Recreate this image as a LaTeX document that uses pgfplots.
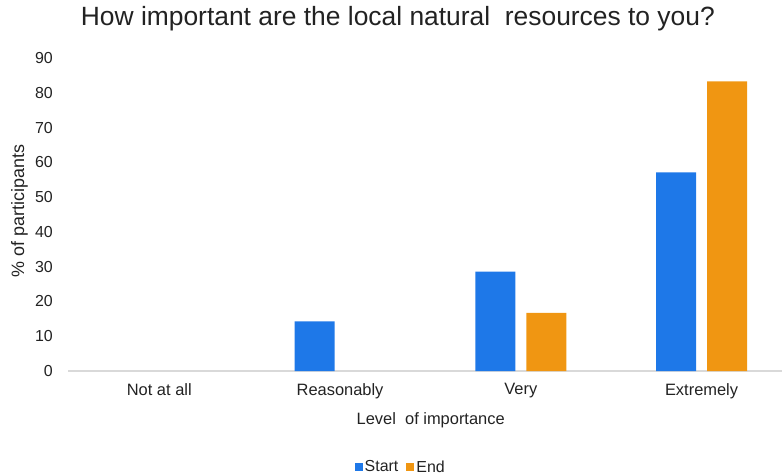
\documentclass[border=0pt]{standalone}
\usepackage{pgfplots}
\pgfplotsset{compat=1.18}
\usepackage{fontspec}
\setmainfont{Liberation Sans}
\definecolor{cStart}{RGB}{30,120,232}
\definecolor{cEnd}{RGB}{240,150,18}
\definecolor{baseline}{RGB}{217,217,217}
\definecolor{txt}{RGB}{34,34,34}
\begin{document}
\begin{tikzpicture}
\path[use as bounding box] (-68bp,-105bp) rectangle (714bp,371bp);
\begin{axis}[
  at={(0,0)}, anchor=south west,
  scale only axis, width=714bp, height=313bp,
  xmin=-0.505, xmax=3.445, ymin=0, ymax=90,
  ybar=11bp, bar width=40bp,
  xtick={0,1,2,3},
  xticklabels={Not at all,Reasonably,Very,Extremely},
  ytick={0,10,...,90},
  major tick length=0pt,
  separate axis lines,
  axis x line*=bottom, axis y line*=left,
  x axis line style={draw=baseline, line width=1.2bp, -},
  y axis line style={draw=none},
  /pgf/number format/assume math mode=true,
  yticklabel style={font=\fontsize{16}{18}\selectfont, text=txt, anchor=east, inner sep=0pt, xshift=-15bp},
  xticklabel style={font=\fontsize{16.5}{18}\selectfont, text=txt, anchor=north, inner sep=0pt, yshift=-12bp},
  xlabel={Level\ \ of importance},
  xlabel style={at={(axis description cs:0.508,-0.157)}, anchor=center, font=\fontsize{16.5}{18}\selectfont, text=txt},
  ylabel={\% of participants},
  ylabel style={at={(axis description cs:-0.068,0.511)}, anchor=center, font=\fontsize{18}{18}\selectfont, text=txt},
  title={How important are the local natural\ \ resources to you?},
  title style={at={(axis description cs:0.462,1.107)}, anchor=center, font=\fontsize{26.5}{30}\selectfont, text=txt},
  legend style={at={(axis description cs:0.466,-0.307)}, anchor=center, draw=none, fill=none, legend columns=2,
    font=\fontsize{16}{18}\selectfont, text=txt, inner sep=0pt,
    /tikz/every even column/.append style={column sep=6bp}},
  legend image code/.code={\fill[#1,draw=none] (0bp,-4bp) rectangle (8bp,4bp);},
]
\addplot[fill=cStart, draw=none] coordinates {(1,14.3) (2,28.6) (3,57.1)};
\addplot[fill=cEnd, draw=none] coordinates {(2,16.7) (3,83.3)};
\legend{Start,End}
\end{axis}
\end{tikzpicture}
\end{document}
